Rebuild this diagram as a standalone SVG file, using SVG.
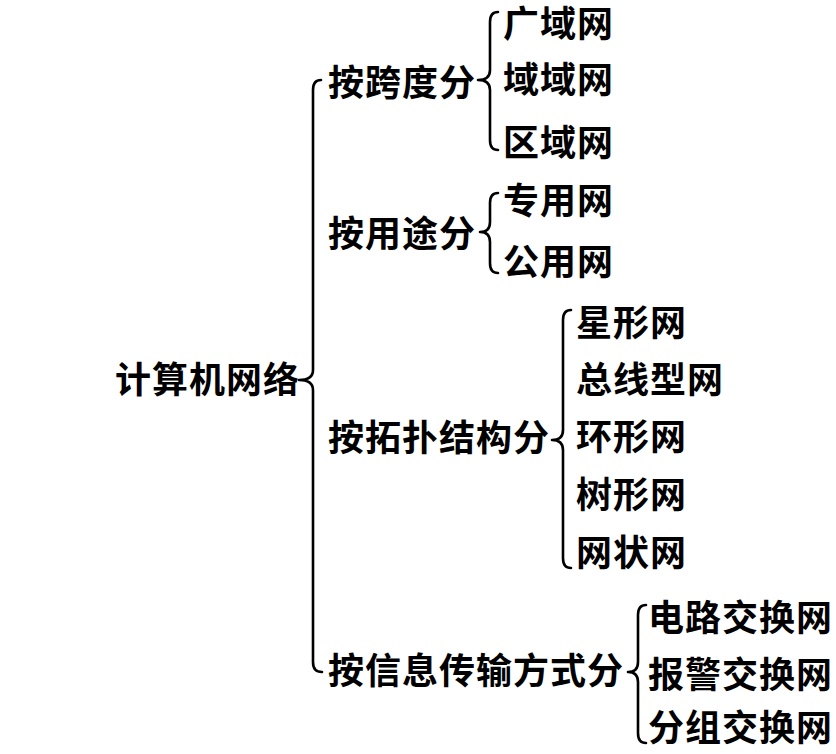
<svg xmlns="http://www.w3.org/2000/svg" width="836" height="754" viewBox="0 0 836 754">
<style>
text{font-family:"Noto Sans CJK SC","Noto Sans CJK TC",sans-serif;font-weight:700;font-size:36px;letter-spacing:1px;fill:#000}
.br{fill:none;stroke:#000;stroke-width:2.6;stroke-linecap:round;stroke-linejoin:round}
</style>
<rect width="836" height="754" fill="#fff"/>
<g id="connectors">
<path class="br" d="M321 80 Q313 80 313 90 L313 370 Q313 380 299 380 Q313 380 313 390 L313 662 Q313 672 322 672"/>
<path class="br" d="M498 12 Q490 12 490 22 L490 70 Q490 80 478 80 Q490 80 490 90 L490 140 Q490 150 498 150"/>
<path class="br" d="M498 193 Q490 193 490 203 L490 222 Q490 232 480 232 Q490 232 490 242 L490 263 Q490 273 498 273"/>
<path class="br" d="M571 310 Q563 310 563 320 L563 430 Q563 440 552 440 Q563 440 563 450 L563 558 Q563 568 571 568"/>
<path class="br" d="M646 605 Q638 605 638 615 L638 662 Q638 672 628 672 Q638 672 638 682 L638 733 Q638 743 646 743"/>
</g>
<g id="root"><text x="115" y="393">计算机网络</text></g>
<g id="span"><text x="328" y="96">按跨度分</text></g>
<g id="use"><text x="328" y="247">按用途分</text></g>
<g id="topo"><text x="328" y="451">按拓扑结构分</text></g>
<g id="trans"><text x="328" y="684">按信息传输方式分</text></g>
<g id="wan"><text x="503" y="37">广域网</text></g>
<g id="man"><text x="503" y="93">域域网</text></g>
<g id="lan"><text x="503" y="156">区域网</text></g>
<g id="private"><text x="503" y="214">专用网</text></g>
<g id="public"><text x="503" y="275">公用网</text></g>
<g id="star"><text x="576" y="336">星形网</text></g>
<g id="bus"><text x="576" y="393">总线型网</text></g>
<g id="ring"><text x="576" y="450">环形网</text></g>
<g id="tree"><text x="576" y="508">树形网</text></g>
<g id="mesh"><text x="576" y="566">网状网</text></g>
<g id="circuit"><text x="648" y="631">电路交换网</text></g>
<g id="alarm"><text x="648" y="688">报警交换网</text></g>
<g id="packet"><text x="648" y="741">分组交换网</text></g>
</svg>
